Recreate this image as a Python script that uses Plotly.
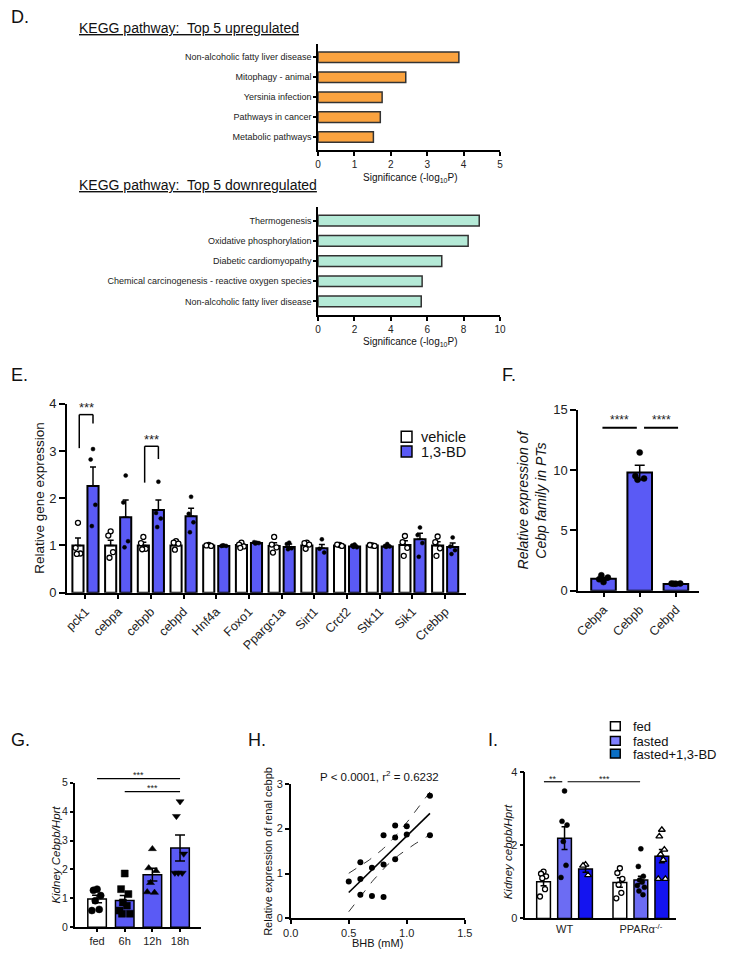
import numpy as np
import plotly.graph_objects as go

# reference frame size (px); the page body keeps an 8px margin, so the figure is drawn 16px smaller
W, H = 734, 964
OX, OY = 8, 8
FW, FH = W - 2 * OX, H - 2 * OY
FONT = "Liberation Sans, Arial, sans-serif"

# ---------------- Panel D: KEGG pathways ----------------
up_terms = ["Non-alcoholic fatty liver disease", "Mitophagy - animal", "Yersinia infection",
            "Pathways in cancer", "Metabolic pathways"]
up_sig = [3.87, 2.41, 1.76, 1.71, 1.52]
down_terms = ["Thermogenesis", "Oxidative phosphorylation", "Diabetic cardiomyopathy",
              "Chemical carcinogenesis - reactive oxygen species", "Non-alcoholic fatty liver disease"]
down_sig = [8.86, 8.25, 6.80, 5.72, 5.67]

# ---------------- Panel E: gene expression ----------------
genes = ["pck1", "cebpa", "cebpb", "cebpd", "Hnf4a", "Foxo1", "Ppargc1a", "Sirt1",
         "Crct2", "Stk11", "Sik1", "Crebbp"]
veh_mean = [1.0, 1.0, 1.0, 1.0, 1.0, 1.01, 0.99, 1.0, 1.0, 1.0, 1.01, 1.0]
veh_sem = [0.16, 0.11, 0.07, 0.04, 0.01, 0.03, 0.07, 0.03, 0.01, 0.01, 0.09, 0.08]
bd_mean = [2.26, 1.60, 1.75, 1.62, 0.99, 1.05, 0.97, 0.94, 0.98, 0.98, 1.13, 0.97]
bd_sem = [0.40, 0.36, 0.21, 0.17, 0.01, 0.01, 0.06, 0.08, 0.03, 0.03, 0.13, 0.08]
veh_pts = [[1.48, 0.95, 0.83, 0.82], [1.30, 1.21, 0.86, 0.74], [1.18, 1.05, 0.93, 0.92],
           [1.09, 1.06, 1.04, 0.91], [1.01, 1.00, 0.99], [1.06, 1.02, 0.98, 0.95],
           [1.18, 1.02, 0.96, 0.85], [1.06, 1.05, 1.02, 0.93], [1.01, 1.02, 0.99],
           [1.00, 1.01, 0.99], [1.20, 1.07, 0.95, 0.78], [1.19, 1.07, 0.94, 0.78]]
bd_pts = [[3.04, 2.82, 1.86, 1.41], [2.48, 1.91, 1.09, 0.96], [2.35, 1.69, 1.57, 1.39],
          [2.03, 1.67, 1.49, 1.28], [1.00, 0.99, 0.99, 1.00], [1.06, 1.07, 1.05, 1.04],
          [1.06, 1.03, 0.94, 0.92], [1.13, 0.93, 0.85], [1.02, 1.00, 0.96, 0.97],
          [1.03, 0.99, 0.98, 0.97], [1.38, 1.22, 1.05, 0.76], [1.17, 0.98, 0.90, 0.82]]
e_sig_genes = [0, 2]
e_sig_low = [3.06, 2.33]
e_sig_top = [3.77, 3.10]
e_sig_right = [3.58, 2.83]

# ---------------- Panel F: Cebp family ----------------
cebp_family = ["Cebpa", "Cebpb", "Cebpd"]
f_mean = [1.0, 9.8, 0.55]
f_sem = [0.12, 0.60, 0.04]
f_pts = [[0.72, 0.95, 1.09, 1.28], [11.45, 9.5, 9.3, 9.2], [0.58, 0.60, 0.60, 0.58]]

# ---------------- Panel G: fasting time course ----------------
g_groups = ["fed", "6h", "12h", "18h"]
g_mean = [0.98, 0.93, 1.82, 2.74]
g_sem = [0.13, 0.17, 0.22, 0.45]
g_pts = [[1.32, 1.28, 1.10, 0.92, 0.62, 0.58],
         [1.86, 1.32, 1.15, 0.86, 0.75, 0.58, 0.47, 0.47],
         [2.71, 2.05, 1.95, 1.54, 1.20, 1.22],
         [4.35, 3.84, 2.54, 1.88, 1.88, 1.88]]
g_symbols = ["circle", "square", "triangle-up", "triangle-down"]

# ---------------- Panel H: correlation ----------------
bhb = [0.5, 0.6, 0.6, 0.6, 0.7, 0.7, 0.8, 0.8, 0.8, 0.9, 0.9, 0.9, 1.0, 1.0, 1.2, 1.2]
cebpb_rel = [0.82, 1.25, 0.88, 0.53, 1.13, 0.50, 1.85, 1.20, 0.48, 2.07, 1.80, 1.32,
             2.05, 1.87, 2.73, 1.85]

# ---------------- Panel I: PPARa ----------------
i_groups = ["WT", "PPARα<sup>-/-</sup>"]
i_fed_mean = [1.0, 0.98]
i_fed_sem = [0.11, 0.13]
i_fast_mean = [2.19, 1.05]
i_fast_sem = [0.31, 0.10]
i_bd_mean = [1.35, 1.70]
i_bd_sem = [0.09, 0.18]
i_fed_pts = [[1.28, 1.22, 1.15, 1.10, 0.80, 0.60], [1.37, 1.24, 1.08, 0.92, 0.70, 0.55]]
i_fast_pts = [[3.48, 2.65, 2.55, 2.10, 1.45, 1.12],
              [1.90, 1.42, 1.15, 1.05, 1.00, 0.90, 0.85, 0.75, 0.65]]
i_bd_pts = [[1.47, 1.44, 1.18], [2.42, 2.24, 1.88, 1.75, 1.60, 1.08, 1.08]]

# ---------------- styles ----------------
ORANGE = "#FBA33F"
TEAL = "#B5EAD7"
BLUE = "#5A5AF5"
I_FAST = "#6C6CF3"
I_BD = "#1414F0"
I_BD_LEG = "#0A6FC4"
PATTERN = [0.0, -0.6, 0.6, -0.3, 0.35, -0.85, 0.85, -0.45, 0.5]


def px(x):
    return (x - OX) / FW


def py(y):
    return 1 - (y - OY) / FH


def xd(l, r):
    return [px(l), px(r)]


def yd(t, b):
    return [py(b), py(t)]


AX = dict(showline=True, linecolor="black", linewidth=1.5, ticks="outside", ticklen=4,
          tickwidth=1.5, tickcolor="black", showgrid=False, zeroline=False, fixedrange=True,
          tickfont=dict(family=FONT, size=11, color="#222"))

fig = go.Figure()


def add_points(xa, ya, center, vals, halfw, symbol, fill, size=5, lw=1.2):
    xs = [center + PATTERN[k % len(PATTERN)] * halfw for k in range(len(vals))]
    fig.add_trace(go.Scatter(x=xs, y=vals, mode="markers", xaxis=xa, yaxis=ya,
                             marker=dict(symbol=symbol, size=size, color=fill,
                                         line=dict(color="black", width=lw)),
                             cliponaxis=False, hoverinfo="skip"))


# ---- D up
fig.add_trace(go.Bar(x=up_sig, y=list(range(len(up_terms))), orientation="h", width=0.53,
                     marker=dict(color=ORANGE, line=dict(color="#333", width=1.5)),
                     xaxis="x", yaxis="y"))
# ---- D down
fig.add_trace(go.Bar(x=down_sig, y=list(range(len(down_terms))), orientation="h", width=0.53,
                     marker=dict(color=TEAL, line=dict(color="#333", width=1.5)),
                     xaxis="x2", yaxis="y2"))

# ---- E
ex = list(range(len(genes)))
EW = 0.34
fig.add_trace(go.Bar(x=ex, y=veh_mean, width=EW, offset=-0.40, xaxis="x3", yaxis="y3",
                     marker=dict(color="white", line=dict(color="black", width=2)),
                     error_y=dict(type="data", array=veh_sem, arrayminus=[0] * len(ex),
                                  symmetric=False, color="black", thickness=1.5, width=3)))
fig.add_trace(go.Bar(x=ex, y=bd_mean, width=EW, offset=0.06, xaxis="x3", yaxis="y3",
                     marker=dict(color=BLUE, line=dict(color="black", width=2)),
                     error_y=dict(type="data", array=bd_sem, arrayminus=[0] * len(ex),
                                  symmetric=False, color="black", thickness=1.5, width=3)))
for i in ex:
    add_points("x3", "y3", i - 0.40 + EW / 2, veh_pts[i], 0.12, "circle", "white", 5, 1.3)
    add_points("x3", "y3", i + 0.06 + EW / 2, bd_pts[i], 0.12, "circle", "black", 4, 0.5)

# ---- F
fx = list(range(len(cebp_family)))
fig.add_trace(go.Bar(x=fx, y=f_mean, width=0.68, offset=-0.34, xaxis="x4", yaxis="y4",
                     marker=dict(color=BLUE, line=dict(color="black", width=2)),
                     error_y=dict(type="data", array=f_sem, color="black", thickness=1.5, width=5)))
for i in fx:
    add_points("x4", "y4", i, f_pts[i], 0.2, "circle", "black", 6, 0.5)

# ---- G
gx = list(range(len(g_groups)))
fig.add_trace(go.Bar(x=gx, y=g_mean, width=0.67, offset=-0.335, xaxis="x5", yaxis="y5",
                     marker=dict(color=["white"] + [BLUE] * 3, line=dict(color="black", width=1.5)),
                     error_y=dict(type="data", array=g_sem, color="black", thickness=1.5, width=5)))
for i in gx:
    add_points("x5", "y5", i, g_pts[i], 0.22, g_symbols[i], "black", 7, 0.5)

# ---- H
bx = np.array(bhb)
by = np.array(cebpb_rel)
slope, intercept = np.polyfit(bx, by, 1)
xf = np.linspace(bx.min(), bx.max(), 60)
yf = slope * xf + intercept
n = len(bx)
resid = by - (slope * bx + intercept)
s = np.sqrt(np.sum(resid ** 2) / (n - 2))
t95 = 2.145
se = s * np.sqrt(1 / n + (xf - bx.mean()) ** 2 / np.sum((bx - bx.mean()) ** 2))
for band in (yf + t95 * se, yf - t95 * se):
    fig.add_trace(go.Scatter(x=xf, y=band, mode="lines", xaxis="x6", yaxis="y6",
                             line=dict(color="black", width=0.8, dash="dash"), hoverinfo="skip"))
fig.add_trace(go.Scatter(x=xf, y=yf, mode="lines", xaxis="x6", yaxis="y6",
                         line=dict(color="black", width=1.6), hoverinfo="skip"))
fig.add_trace(go.Scatter(x=bhb, y=cebpb_rel, mode="markers", xaxis="x6", yaxis="y6",
                         marker=dict(color="black", size=6), hoverinfo="skip"))

# ---- I
ix = list(range(len(i_groups)))
IW = 0.18
i_specs = [(i_fed_mean, i_fed_sem, i_fed_pts, -0.365, "white", "circle", "white", 1.3, 5),
           (i_fast_mean, i_fast_sem, i_fast_pts, -0.09, I_FAST, "circle", "black", 0.5, 5),
           (i_bd_mean, i_bd_sem, i_bd_pts, 0.185, I_BD, "triangle-up", "white", 1.3, 6)]
for mean, sem, pts, off, col, sym, mfill, mlw, msz in i_specs:
    fig.add_trace(go.Bar(x=ix, y=mean, width=IW, offset=off, xaxis="x7", yaxis="y7",
                         marker=dict(color=col, line=dict(color="black", width=1.5)),
                         error_y=dict(type="data", array=sem, color="black", thickness=1.5, width=3)))
    for i in ix:
        add_points("x7", "y7", i + off + IW / 2, pts[i], 0.055, sym, mfill, msz, mlw)


# ---------------- axes ----------------
def ax(**kw):
    d = dict(AX)
    d.update(kw)
    return d


def tf(size):
    return dict(family=FONT, size=size, color="#222")


lay = dict(
    xaxis=ax(domain=xd(317, 503), range=[0, 5], dtick=1, anchor="y", tickfont=tf(10)),
    yaxis=ax(domain=yd(37, 145), range=[4.64, -0.69], tickvals=list(range(5)), ticktext=up_terms,
             anchor="x", ticklen=3, tickfont=tf(9)),
    xaxis2=ax(domain=xd(317, 503), range=[0, 10], dtick=2, anchor="y2", tickfont=tf(10)),
    yaxis2=ax(domain=yd(203, 313), range=[4.68, -0.68], tickvals=list(range(5)), ticktext=down_terms,
              anchor="x2", ticklen=3, tickfont=tf(9)),
    xaxis3=ax(domain=xd(60, 468), range=[-0.57, 11.63], tickvals=ex, ticktext=genes, tickangle=-45,
              anchor="y3", ticklen=5, tickfont=tf(12.5)),
    yaxis3=ax(domain=yd(403, 595), range=[0, 4], dtick=1, anchor="x3", ticklen=6, tickfont=tf(13)),
    xaxis4=ax(domain=xd(583, 707), range=[-0.7, 2.65], tickvals=fx, ticktext=cebp_family, tickangle=-45,
              anchor="y4", ticklen=5, tickfont=tf(12.5)),
    yaxis4=ax(domain=yd(409, 593), range=[0, 15], dtick=5, anchor="x4", ticklen=6, tickfont=tf(13)),
    xaxis5=ax(domain=xd(68, 197), range=[-0.81, 3.75], tickvals=gx, ticktext=g_groups, anchor="y5",
              ticklen=3),
    yaxis5=ax(domain=yd(788, 935), range=[0, 5], dtick=1, anchor="x5", ticklen=3, tickfont=tf(10.5)),
    xaxis6=ax(domain=xd(289, 467), range=[0, 1.5], dtick=0.5, tickformat=".1f", anchor="y6"),
    yaxis6=ax(domain=yd(789, 926), range=[0, 3], dtick=1, anchor="x6"),
    xaxis7=ax(domain=xd(529, 683), range=[-0.513, 1.46], tickvals=ix, ticktext=i_groups, ticks="",
              anchor="y7"),
    yaxis7=ax(domain=yd(777, 926), range=[0, 4], dtick=2, anchor="x7"),
)


def dx(axname, v):
    dom, rng = lay[axname]["domain"], lay[axname]["range"]
    return dom[0] + (v - rng[0]) / (rng[1] - rng[0]) * (dom[1] - dom[0])


# ---------------- annotations & shapes ----------------
ann = []
shapes = []


def text(x, y, s, size=12, xanchor="center", yanchor="middle", angle=0, color="#111", italic=False):
    if italic:
        s = "<i>" + s + "</i>"
    ann.append(dict(x=px(x), y=py(y), xref="paper", yref="paper", text=s, showarrow=False,
                    xanchor=xanchor, yanchor=yanchor, textangle=angle,
                    font=dict(family=FONT, size=size, color=color)))


# panel letters
for lab, x, y in [("D.", 1, 10), ("E.", 1, 374), ("F.", 503, 374), ("G.", 1, 745), ("H.", 243, 745), ("I.", 489, 745)]:
    text(x, y, lab, size=18, xanchor="left")

text(70, 21, "<u>KEGG pathway:  Top 5 upregulated</u>", 14, xanchor="left")
text(70, 181, "<u>KEGG pathway:  Top 5 downregulated</u>", 14, xanchor="left")
text(412, 174, "Significance (-log<sub>10</sub>P)", 10)
text(412, 340, "Significance (-log<sub>10</sub>P)", 10)

text(32, 498, "Relative gene expression", 13.5, angle=-90)
text(536, 500, "Relative expression of<br>Cebp family in PTs", 14, angle=-90, italic=True)
text(48, 861, "Kidney Cebpb/Hprt", 11.5, angle=-90, italic=True)
text(265, 858, "Relative expression of renal cebpb", 11, angle=-90)
text(378, 951, "BHB (mM)", 11)
text(380, 781, "P < 0.0001, r<sup>2</sup> = 0.6232", 11.5)
text(511, 858, "Kidney cebpb/Hprt", 11.5, angle=-90, italic=True)

# legend E
for (y0, col, lab) in [(431, "white", "vehicle"), (446, BLUE, "1,3-BD")]:
    shapes.append(dict(type="rect", xref="paper", yref="paper", x0=px(402), x1=px(413), y0=py(y0 + 11),
                       y1=py(y0), fillcolor=col, line=dict(color="black", width=1.5)))
    text(420, y0 + 6, lab, 14.5, xanchor="left")

# legend I
for (y0, col, lab) in [(726, "white", "fed"), (741, "#8080FF", "fasted"), (754, I_BD_LEG, "fasted+1,3-BD")]:
    shapes.append(dict(type="rect", xref="paper", yref="paper", x0=px(616), x1=px(626), y0=py(y0 + 9),
                       y1=py(y0), fillcolor=col, line=dict(color="black", width=1.5)))
    text(637, y0 + 5, lab, 13, xanchor="left")


def line(xa, ya, x0, y0, x1, y1, w=1.5):
    shapes.append(dict(type="line", xref="paper", yref="paper",
                       x0=dx(xa, x0), y0=dx(ya, y0), x1=dx(xa, x1), y1=dx(ya, y1),
                       line=dict(color="black", width=w)))


def stars(xa, ya, x, y, s, size=11):
    ann.append(dict(x=dx(xa, x), y=dx(ya, y), xref="paper", yref="paper", text=s, showarrow=False,
                    xanchor="center", yanchor="bottom", font=dict(family=FONT, size=size, color="#222")))


# E brackets
for g, lo, top, rlo in zip(e_sig_genes, e_sig_low, e_sig_top, e_sig_right):
    xl = g - 0.40 + EW / 2 + 0.04
    xr = g + 0.06 + EW / 2
    line("xaxis3", "yaxis3", xl, lo, xl, top)
    line("xaxis3", "yaxis3", xl, top, xr, top)
    line("xaxis3", "yaxis3", xr, top, xr, rlo)
    stars("xaxis3", "yaxis3", (xl + xr) / 2, top - 0.05, "***", 13)

# F
line("xaxis4", "yaxis4", -0.03, 13.5, 0.92, 13.5, 2)
line("xaxis4", "yaxis4", 1.12, 13.5, 2.06, 13.5, 2)
stars("xaxis4", "yaxis4", 0.45, 13.4, "****", 12)
stars("xaxis4", "yaxis4", 1.6, 13.4, "****", 12)

# G
line("xaxis5", "yaxis5", 0, 5.14, 3, 5.14, 1.2)
line("xaxis5", "yaxis5", 1, 4.69, 3, 4.69, 1.2)
stars("xaxis5", "yaxis5", 1.5, 5.02, "***", 9)
stars("xaxis5", "yaxis5", 2.0, 4.57, "***", 9)

# I
line("xaxis7", "yaxis7", -0.27, 3.73, -0.03, 3.73, 1.2)
line("xaxis7", "yaxis7", 0.04, 3.73, 0.99, 3.73, 1.2)
stars("xaxis7", "yaxis7", -0.15, 3.62, "**", 9)
stars("xaxis7", "yaxis7", 0.52, 3.62, "***", 9)

fig.update_layout(width=FW, height=FH, margin=dict(l=0, r=0, t=0, b=0), showlegend=False,
                  plot_bgcolor="white", paper_bgcolor="white", barmode="overlay",
                  font=dict(family=FONT, color="#222"), annotations=ann, shapes=shapes, **lay)

fig.write_html("out.html", config={"displayModeBar": False})
